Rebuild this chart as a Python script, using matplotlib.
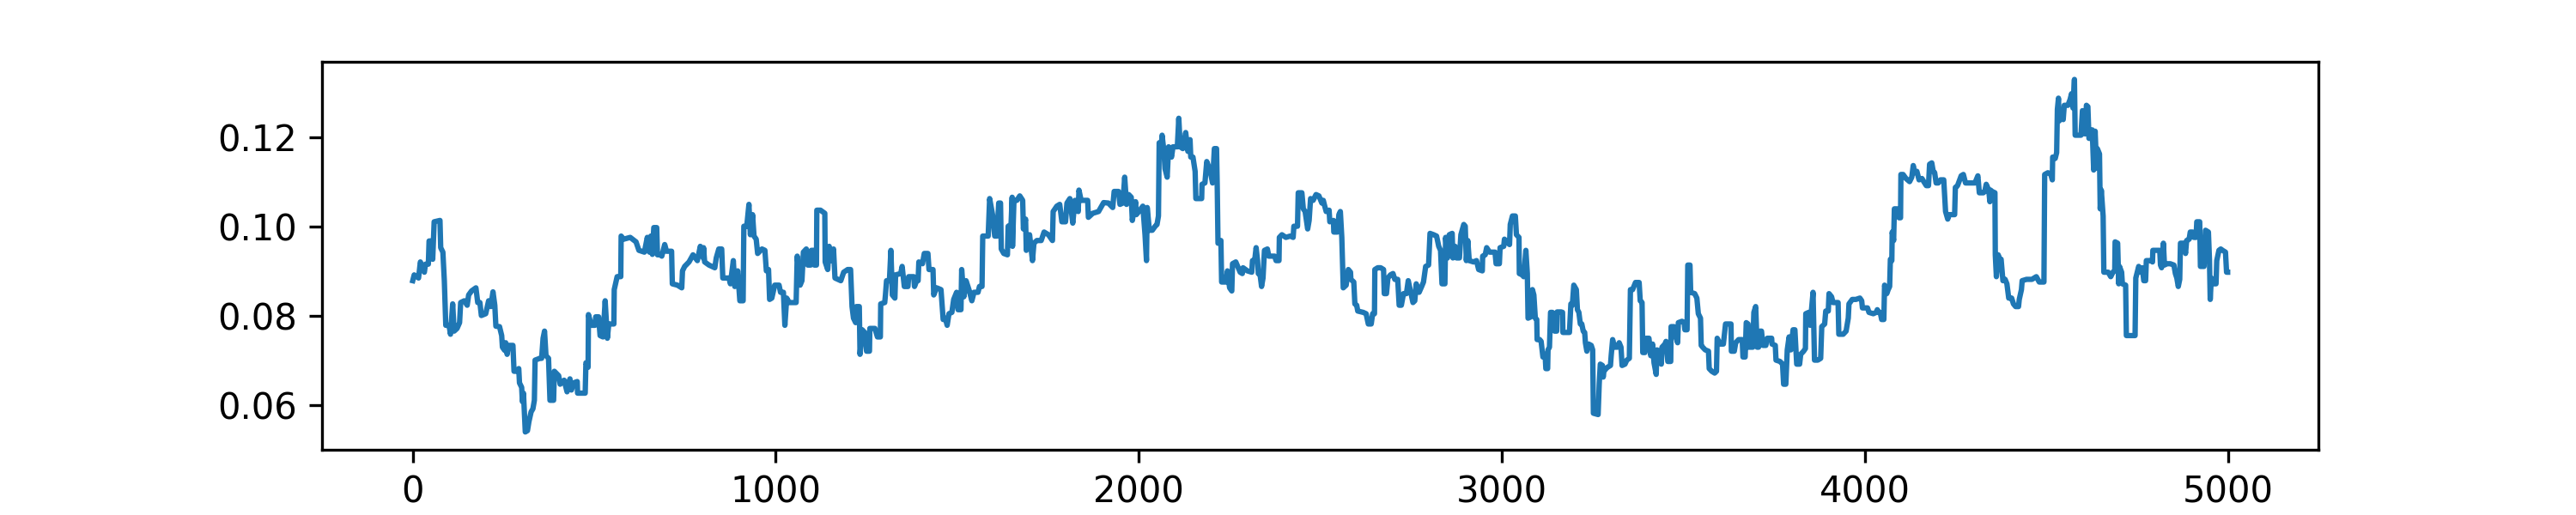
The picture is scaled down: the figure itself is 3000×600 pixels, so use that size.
import matplotlib
matplotlib.use("Agg")
import matplotlib.pyplot as plt

# values, segment by segment (step index, value)
steps_a = [0, 4, 16, 21, 32, 35, 43, 45, 53, 55, 59, 75, 77, 83, 87, 91, 100, 104,
           110, 114, 122, 129, 132, 142, 150, 154, 162, 174, 179, 185, 189, 201,
           209, 215, 221, 226, 229, 239, 245, 247, 253, 256, 260, 264, 276, 279,
           288, 292, 294, 300, 302, 305, 310, 316, 320, 326, 331, 335, 337, 350,
           355, 359, 363, 367, 374, 378, 388, 390, 402, 406, 417, 425, 433, 437,
           443, 453, 454, 475, 477, 483, 484, 492, 502, 504, 512, 516, 524, 530,
           536, 540, 554, 555, 563, 573, 574, 581, 599, 615, 623, 638, 646, 652,
           656, 660, 664, 672, 674, 682, 686, 694, 699, 713, 715, 729, 741, 743,
           749, 761, 772, 784, 792, 800]
values_a = [0.0879, 0.0892, 0.0885, 0.0921, 0.0898, 0.0916, 0.0916, 0.0968, 0.0968,
            0.0927, 0.1011, 0.1014, 0.0953, 0.0943, 0.0879, 0.0779, 0.0779, 0.0759,
            0.0827, 0.0766, 0.0772, 0.0785, 0.0830, 0.0834, 0.0824, 0.0847, 0.0856,
            0.0863, 0.0830, 0.0830, 0.0801, 0.0805, 0.0834, 0.0821, 0.0854, 0.0824,
            0.0777, 0.0776, 0.0756, 0.0730, 0.0723, 0.0740, 0.0714, 0.0734, 0.0734,
            0.0676, 0.0676, 0.0682, 0.0650, 0.0640, 0.0608, 0.0627, 0.0540, 0.0543,
            0.0563, 0.0585, 0.0592, 0.0611, 0.0701, 0.0705, 0.0705, 0.0750, 0.0766,
            0.0711, 0.0705, 0.0611, 0.0611, 0.0676, 0.0666, 0.0647, 0.0656, 0.0630,
            0.0659, 0.0634, 0.0650, 0.0653, 0.0627, 0.0627, 0.0695, 0.0685, 0.0803,
            0.0779, 0.0779, 0.0798, 0.0798, 0.0756, 0.0753, 0.0834, 0.0750, 0.0782,
            0.0782, 0.0859, 0.0888, 0.0888, 0.0979, 0.0972, 0.0976, 0.0966, 0.0947,
            0.0943, 0.0976, 0.0943, 0.0979, 0.0938, 0.0998, 0.0998, 0.0937, 0.0937,
            0.0934, 0.0960, 0.0945, 0.0945, 0.0872, 0.0869, 0.0863, 0.0901, 0.0911,
            0.0921, 0.0937, 0.0924, 0.0956, 0.0930]

steps_b = [801, 804, 816, 832, 836, 843, 851, 854, 871, 875, 883, 887, 895, 901,
           910, 912, 920, 926, 930, 936, 940, 946, 950, 962, 970, 974, 980, 983,
           989, 997, 1009, 1013, 1021, 1025, 1030, 1037, 1056, 1059, 1067, 1072,
           1076, 1084, 1088, 1096, 1098, 1104, 1106, 1112, 1113, 1123, 1135, 1136,
           1143, 1147, 1153, 1159, 1163, 1179, 1187, 1198, 1206, 1210, 1214, 1220,
           1222, 1230, 1232, 1238, 1246, 1250, 1258, 1259, 1273, 1280, 1288, 1289,
           1300, 1302, 1305, 1313, 1317, 1321, 1328, 1330, 1344, 1348, 1354, 1364,
           1366, 1380, 1382, 1388, 1392, 1394, 1404, 1409, 1419, 1422, 1433, 1435,
           1443, 1455, 1461, 1467, 1472, 1477, 1485, 1490, 1498, 1502, 1510, 1512,
           1518, 1524, 1532, 1540, 1546, 1557, 1561, 1568, 1570, 1585, 1589, 1597,
           1603, 1609, 1614, 1619, 1621, 1628, 1638, 1640, 1648, 1651]
values_b = [0.0953, 0.0921, 0.0914, 0.0908, 0.0930, 0.0950, 0.0950, 0.0885, 0.0885,
            0.0872, 0.0924, 0.0866, 0.0901, 0.0834, 0.0834, 0.1001, 0.1001, 0.1050,
            0.0982, 0.1027, 0.0979, 0.0972, 0.0940, 0.0950, 0.0947, 0.0901, 0.0904,
            0.0837, 0.0840, 0.0869, 0.0869, 0.0853, 0.0853, 0.0779, 0.0840, 0.0830,
            0.0830, 0.0934, 0.0869, 0.0879, 0.0943, 0.0950, 0.0914, 0.0914, 0.0947,
            0.0947, 0.0914, 0.0914, 0.1037, 0.1037, 0.1030, 0.0921, 0.0904, 0.0956,
            0.0924, 0.0950, 0.0885, 0.0879, 0.0898, 0.0904, 0.0904, 0.0821, 0.0795,
            0.0785, 0.0821, 0.0821, 0.0714, 0.0769, 0.0762, 0.0721, 0.0721, 0.0772,
            0.0772, 0.0753, 0.0753, 0.0827, 0.0830, 0.0847, 0.0879, 0.0879, 0.0947,
            0.0847, 0.0840, 0.0892, 0.0895, 0.0911, 0.0866, 0.0866, 0.0888, 0.0888,
            0.0866, 0.0879, 0.0879, 0.0921, 0.0917, 0.0940, 0.0940, 0.0904, 0.0904,
            0.0847, 0.0863, 0.0859, 0.0792, 0.0795, 0.0779, 0.0805, 0.0808, 0.0837,
            0.0853, 0.0814, 0.0814, 0.0904, 0.0843, 0.0879, 0.0859, 0.0834, 0.0853,
            0.0853, 0.0866, 0.0866, 0.0979, 0.0979, 0.1063, 0.1027, 0.0979, 0.0979,
            0.1053, 0.1053, 0.0950, 0.0940, 0.0937, 0.1001, 0.1005, 0.1066]

steps_c = [1652, 1656, 1664, 1672, 1680, 1682, 1688, 1690, 1699, 1707, 1711, 1719,
           1731, 1739, 1751, 1762, 1764, 1774, 1782, 1788, 1798, 1802, 1810, 1818,
           1824, 1833, 1835, 1841, 1859, 1861, 1873, 1889, 1903, 1916, 1928, 1932,
           1944, 1948, 1956, 1961, 1966, 1972, 1979, 1982, 1991, 1993, 2003, 2011,
           2017, 2021, 2023, 2029, 2037, 2045, 2050, 2054, 2056, 2061, 2064, 2069,
           2072, 2078, 2082, 2090, 2094, 2106, 2110, 2114, 2121, 2129, 2135, 2141,
           2143, 2149, 2155, 2157, 2173, 2174, 2182, 2187, 2196, 2203, 2208, 2214,
           2216, 2218, 2226, 2228, 2240, 2244, 2250, 2256, 2258, 2267, 2279, 2285,
           2287, 2299, 2311, 2313, 2319, 2323, 2327, 2329, 2334, 2338, 2342, 2346,
           2354, 2358, 2374, 2378, 2386, 2387, 2394, 2405, 2417, 2425, 2427, 2437,
           2439, 2449, 2453, 2458, 2465, 2469, 2473, 2480, 2488, 2496, 2504]
values_c = [0.0956, 0.1059, 0.1059, 0.1069, 0.1059, 0.0995, 0.1017, 0.0947, 0.0982,
            0.0924, 0.0963, 0.0969, 0.0969, 0.0988, 0.0982, 0.0969, 0.1034, 0.1046,
            0.1050, 0.1011, 0.1011, 0.1053, 0.1063, 0.1008, 0.1059, 0.1034, 0.1082,
            0.1059, 0.1059, 0.1021, 0.1030, 0.1034, 0.1054, 0.1053, 0.1043, 0.1079,
            0.1079, 0.1050, 0.1053, 0.1111, 0.1050, 0.1072, 0.1066, 0.1014, 0.1056,
            0.1027, 0.1037, 0.1046, 0.0982, 0.0924, 0.1043, 0.0992, 0.0992, 0.1001,
            0.1005, 0.1024, 0.1188, 0.1169, 0.1205, 0.1170, 0.1130, 0.1111, 0.1179,
            0.1156, 0.1179, 0.1179, 0.1243, 0.1179, 0.1175, 0.1211, 0.1169, 0.1195,
            0.1156, 0.1156, 0.1124, 0.1063, 0.1063, 0.1095, 0.1098, 0.1146, 0.1127,
            0.1098, 0.1175, 0.1175, 0.1085, 0.0963, 0.0969, 0.0876, 0.0876, 0.0901,
            0.0863, 0.0856, 0.0917, 0.0921, 0.0898, 0.0895, 0.0908, 0.0901, 0.0898,
            0.0924, 0.0924, 0.0953, 0.0924, 0.0895, 0.0892, 0.0866, 0.0885, 0.0947,
            0.0950, 0.0934, 0.0934, 0.0924, 0.0924, 0.0976, 0.0982, 0.0976, 0.0979,
            0.0976, 0.1001, 0.1001, 0.1076, 0.1076, 0.1040, 0.1034, 0.0995, 0.1014,
            0.1063, 0.1059, 0.1072, 0.1069, 0.1053]

steps_d = [2508, 2512, 2516, 2524, 2526, 2536, 2537, 2547, 2551, 2555, 2559, 2563,
           2571, 2577, 2583, 2584, 2592, 2595, 2600, 2603, 2618, 2626, 2632, 2640,
           2644, 2649, 2650, 2658, 2666, 2674, 2676, 2682, 2686, 2693, 2700, 2705,
           2713, 2717, 2723, 2729, 2737, 2742, 2749, 2755, 2760, 2764, 2772, 2779,
           2784, 2790, 2798, 2802, 2812, 2820, 2826, 2831, 2835, 2843, 2845, 2850,
           2855, 2863, 2865, 2871, 2875, 2883, 2887, 2895, 2899, 2902, 2906, 2910,
           2922, 2930, 2936, 2946, 2947, 2954, 2958, 2966, 2981, 2984, 2993, 2995,
           3005, 3007, 3013, 3021, 3023, 3029, 3037, 3040, 3047, 3048, 3056, 3060,
           3066, 3070, 3072, 3080, 3084, 3088, 3092, 3096, 3097, 3104, 3108, 3113,
           3119, 3121, 3126, 3127, 3131, 3134, 3139, 3145, 3151, 3152, 3163, 3167,
           3168, 3186, 3190, 3194, 3198, 3205, 3208, 3212, 3216, 3220, 3224, 3228,
           3230, 3234, 3239, 3246, 3250, 3252, 3265, 3268, 3271, 3277, 3279, 3281,
           3287, 3291, 3299, 3301, 3305, 3310, 3318, 3323, 3328, 3331, 3339, 3344,
           3351, 3354]
values_d = [0.1059, 0.1046, 0.1034, 0.1037, 0.1011, 0.1014, 0.0988, 0.0988, 0.1027,
            0.1034, 0.0976, 0.0863, 0.0869, 0.0904, 0.0898, 0.0882, 0.0876, 0.0827,
            0.0824, 0.0811, 0.0808, 0.0805, 0.0782, 0.0782, 0.0805, 0.0805, 0.0904,
            0.0908, 0.0908, 0.0904, 0.0850, 0.0850, 0.0885, 0.0892, 0.0895, 0.0882,
            0.0882, 0.0824, 0.0824, 0.0850, 0.0850, 0.0879, 0.0853, 0.0830, 0.0834,
            0.0872, 0.0853, 0.0866, 0.0876, 0.0911, 0.0914, 0.0985, 0.0982, 0.0979,
            0.0956, 0.0947, 0.0872, 0.0872, 0.0976, 0.0930, 0.0982, 0.0985, 0.0930,
            0.0956, 0.0930, 0.0930, 0.0982, 0.1005, 0.1001, 0.0924, 0.0969, 0.0924,
            0.0921, 0.0924, 0.0904, 0.0901, 0.0934, 0.0937, 0.0953, 0.0943, 0.0943,
            0.0917, 0.0917, 0.0953, 0.0956, 0.0972, 0.0966, 0.0960, 0.1005, 0.1024,
            0.1024, 0.0982, 0.0976, 0.0895, 0.0892, 0.0888, 0.0947, 0.0895, 0.0795,
            0.0798, 0.0859, 0.0847, 0.0795, 0.0792, 0.0747, 0.0747, 0.0743, 0.0708,
            0.0714, 0.0682, 0.0682, 0.0724, 0.0730, 0.0808, 0.0808, 0.0766, 0.0766,
            0.0809, 0.0809, 0.0808, 0.0763, 0.0763, 0.0827, 0.0824, 0.0869, 0.0859,
            0.0814, 0.0808, 0.0782, 0.0782, 0.0766, 0.0763, 0.0740, 0.0721, 0.0737,
            0.0734, 0.0724, 0.0582, 0.0579, 0.0647, 0.0692, 0.0689, 0.0663, 0.0676,
            0.0682, 0.0685, 0.0689, 0.0711, 0.0747, 0.0730, 0.0730, 0.0740, 0.0730,
            0.0689, 0.0692, 0.0701, 0.0705, 0.0859]

steps_e = [3360, 3368, 3378, 3381, 3386, 3388, 3394, 3397, 3405, 3410, 3415, 3419,
           3425, 3427, 3433, 3439, 3441, 3449, 3452, 3457, 3465, 3466, 3474, 3478,
           3484, 3486, 3496, 3502, 3504, 3510, 3512, 3518, 3520, 3531, 3537, 3541,
           3547, 3549, 3553, 3560, 3569, 3571, 3578, 3586, 3591, 3593, 3601, 3610,
           3616, 3631, 3632, 3640, 3644, 3652, 3662, 3664, 3670, 3673, 3678, 3679,
           3691, 3694, 3699, 3703, 3707, 3711, 3715, 3719, 3727, 3731, 3743, 3744,
           3753, 3755, 3766, 3773, 3776, 3782, 3786, 3791, 3796, 3802, 3807, 3812,
           3820, 3823, 3831, 3836, 3837, 3845, 3849, 3857, 3861, 3870, 3878, 3881,
           3889, 3892, 3899, 3901, 3908, 3912, 3926, 3928, 3940, 3948, 3954, 3956,
           3965, 3975, 3986, 3991, 3993, 4007, 4011, 4023, 4031, 4034, 4038, 4042,
           4046, 4052, 4054, 4060, 4064, 4068, 4070, 4074, 4075, 4079, 4081, 4088,
           4094, 4098, 4099, 4105, 4113, 4123, 4129, 4133, 4137, 4143, 4149, 4157,
           4162, 4169, 4175, 4178, 4184, 4188, 4192, 4196, 4202, 4208]
values_e = [0.0859, 0.0875, 0.0875, 0.0834, 0.0830, 0.0718, 0.0718, 0.0750, 0.0750,
            0.0711, 0.0737, 0.0695, 0.0669, 0.0724, 0.0721, 0.0692, 0.0730, 0.0737,
            0.0743, 0.0698, 0.0698, 0.0776, 0.0776, 0.0756, 0.0740, 0.0785, 0.0788,
            0.0785, 0.0769, 0.0769, 0.0914, 0.0914, 0.0853, 0.0850, 0.0840, 0.0805,
            0.0795, 0.0734, 0.0730, 0.0724, 0.0721, 0.0682, 0.0676, 0.0672, 0.0676,
            0.0750, 0.0737, 0.0737, 0.0782, 0.0782, 0.0721, 0.0721, 0.0740, 0.0747,
            0.0747, 0.0708, 0.0708, 0.0785, 0.0782, 0.0730, 0.0730, 0.0808, 0.0821,
            0.0730, 0.0730, 0.0766, 0.0766, 0.0734, 0.0734, 0.0750, 0.0750, 0.0737,
            0.0734, 0.0701, 0.0698, 0.0692, 0.0647, 0.0647, 0.0724, 0.0753, 0.0724,
            0.0769, 0.0769, 0.0692, 0.0692, 0.0714, 0.0721, 0.0727, 0.0805, 0.0808,
            0.0779, 0.0853, 0.0701, 0.0701, 0.0705, 0.0776, 0.0782, 0.0811, 0.0811,
            0.0850, 0.0843, 0.0830, 0.0830, 0.0759, 0.0759, 0.0766, 0.0795, 0.0827,
            0.0837, 0.0837, 0.0840, 0.0834, 0.0818, 0.0818, 0.0808, 0.0805, 0.0808,
            0.0814, 0.0808, 0.0808, 0.0792, 0.0792, 0.0869, 0.0850, 0.0859, 0.0866,
            0.0927, 0.0924, 0.0988, 0.0969, 0.1040, 0.1040, 0.1020, 0.1020, 0.1117,
            0.1117, 0.1108, 0.1101, 0.1111, 0.1137, 0.1121, 0.1124, 0.1105, 0.1108,
            0.1101, 0.1092, 0.1092, 0.1140, 0.1143, 0.1124, 0.1121, 0.1098, 0.1098,
            0.1105]

steps_f = [4217, 4222, 4228, 4232, 4247, 4249, 4255, 4259, 4265, 4271, 4277, 4303,
           4311, 4315, 4326, 4330, 4334, 4341, 4344, 4346, 4350, 4358, 4359, 4362,
           4367, 4372, 4375, 4380, 4386, 4391, 4396, 4404, 4409, 4415, 4423, 4425,
           4431, 4433, 4445, 4460, 4472, 4480, 4493, 4495, 4504, 4512, 4516, 4517,
           4524, 4528, 4530, 4533, 4535, 4541, 4546, 4549, 4559, 4565, 4569, 4573,
           4577, 4579, 4595, 4599, 4603, 4606, 4610, 4614, 4617, 4625, 4626, 4630,
           4634, 4638, 4640, 4646, 4648, 4651, 4656, 4658, 4670, 4677, 4683, 4688,
           4689, 4696, 4699, 4701, 4707, 4709, 4718, 4720, 4744, 4746, 4754, 4760,
           4764, 4768, 4773, 4775, 4788, 4792, 4793, 4812, 4814, 4817, 4822, 4825,
           4830, 4841, 4851, 4855, 4859, 4863, 4867, 4869, 4879, 4883, 4886, 4893,
           4896, 4902, 4906, 4912, 4914, 4922, 4924, 4934, 4938, 4946, 4949, 4951,
           4954, 4959, 4967, 4969, 4975, 4980, 4985, 4993, 4996, 4999]
values_f = [0.1105, 0.1034, 0.1017, 0.1027, 0.1027, 0.1088, 0.1092, 0.1101, 0.1114,
            0.1117, 0.1098, 0.1098, 0.1114, 0.1076, 0.1076, 0.1079, 0.1095, 0.1082,
            0.1056, 0.1082, 0.1079, 0.1076, 0.0937, 0.0888, 0.0937, 0.0924, 0.0927,
            0.0879, 0.0882, 0.0872, 0.0840, 0.0840, 0.0827, 0.0821, 0.0821, 0.0837,
            0.0859, 0.0879, 0.0882, 0.0882, 0.0888, 0.0876, 0.0876, 0.1117, 0.1121,
            0.1117, 0.1105, 0.1156, 0.1153, 0.1166, 0.1263, 0.1288, 0.1237, 0.1260,
            0.1240, 0.1272, 0.1272, 0.1285, 0.1298, 0.1266, 0.1330, 0.1205, 0.1205,
            0.1260, 0.1256, 0.1208, 0.1272, 0.1269, 0.1198, 0.1198, 0.1217, 0.1127,
            0.1214, 0.1131, 0.1175, 0.1163, 0.1040, 0.1082, 0.1024, 0.0898, 0.0898,
            0.0888, 0.0898, 0.0901, 0.0966, 0.0963, 0.0872, 0.0911, 0.0898, 0.0872,
            0.0869, 0.0756, 0.0756, 0.0885, 0.0911, 0.0898, 0.0908, 0.0879, 0.0879,
            0.0924, 0.0924, 0.0921, 0.0947, 0.0947, 0.0914, 0.0908, 0.0963, 0.0914,
            0.0917, 0.0917, 0.0914, 0.0895, 0.0885, 0.0866, 0.0882, 0.0963, 0.0963,
            0.0940, 0.0969, 0.0972, 0.0988, 0.0988, 0.0976, 0.0976, 0.1011, 0.1011,
            0.0911, 0.0911, 0.0992, 0.0988, 0.0924, 0.0837, 0.0885, 0.0872, 0.0872,
            0.0924, 0.0947, 0.0950, 0.0947, 0.0943, 0.0898, 0.0898]

steps = steps_a + steps_b + steps_c + steps_d + steps_e + steps_f
values = values_a + values_b + values_c + values_d + values_e + values_f

fig, ax = plt.subplots(figsize=(10, 2), dpi=300)
fig.subplots_adjust(left=0.125, right=0.9, bottom=0.127, top=0.88)
ax.plot(steps, values)

plt.savefig("out.png", dpi=300)
